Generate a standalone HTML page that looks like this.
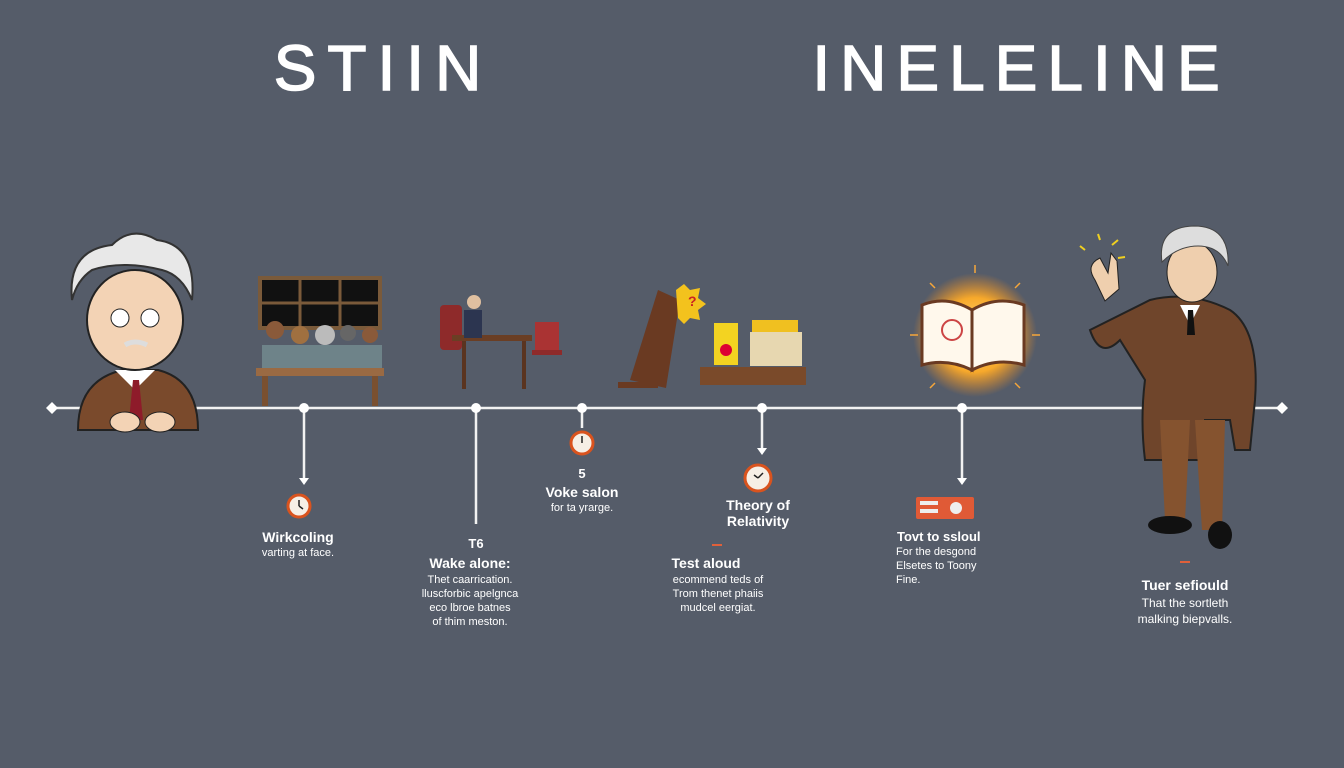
<!DOCTYPE html>
<html><head><meta charset="utf-8"><style>
html,body{margin:0;padding:0}
body{width:1344px;height:768px;overflow:hidden;background:#555c69;font-family:"Liberation Sans",sans-serif;color:#fff}
svg{position:absolute;left:0;top:0}
</style></head><body>
<svg width="1344" height="768" viewBox="0 0 1344 768">
<defs>
<radialGradient id="glow" cx="50%" cy="50%" r="50%"><stop offset="0" stop-color="#ffe08a"/><stop offset=".6" stop-color="#f7a92b"/><stop offset="1" stop-color="#f08a1c" stop-opacity="0"/></radialGradient>
</defs>
<rect width="1344" height="768" fill="#555c69"/>
<g font-family="Liberation Sans" fill="#fff" text-anchor="middle" stroke="#fff" stroke-width="1.5">
<text x="383" y="90" font-size="64" letter-spacing="11">STIIN</text>
<text x="1021" y="90" font-size="64" letter-spacing="10">INELELINE</text>
</g>
<!-- timeline -->
<g stroke="#f2f2f2" stroke-width="2.5" fill="#fff">
<line x1="48" y1="408" x2="1282" y2="408"/>
<line x1="304" y1="408" x2="304" y2="480"/>
<line x1="476" y1="408" x2="476" y2="524"/>
<line x1="582" y1="408" x2="582" y2="428"/>
<line x1="762" y1="408" x2="762" y2="450"/>
<line x1="962" y1="408" x2="962" y2="480"/>
</g>
<g fill="#fff">
<path d="M46 408l6-6 6 6-6 6z"/><path d="M1276 408l6-6 6 6-6 6z"/>
<circle cx="304" cy="408" r="5"/><circle cx="476" cy="408" r="5"/><circle cx="582" cy="408" r="5"/><circle cx="762" cy="408" r="5"/><circle cx="962" cy="408" r="5"/>
<path d="M299 478h10l-5 7z"/><path d="M757 448h10l-5 7z"/><path d="M957 478h10l-5 7z"/>
</g>
<!-- clocks -->
<g stroke="#d9531e" stroke-width="3" fill="#f6efe6">
<circle cx="299" cy="506" r="11"/><circle cx="582" cy="443" r="11"/><circle cx="758" cy="478" r="13"/>
</g>
<g stroke="#222" stroke-width="1.5"><path d="M299 506v-6M299 506l4 3M582 443v-7M758 478l5-5M758 478l-4-3"/></g>
<rect x="916" y="497" width="58" height="22" rx="2" fill="#e05a36"/>
<rect x="920" y="501" width="18" height="4" fill="#eee"/><rect x="920" y="509" width="18" height="4" fill="#eee"/><circle cx="956" cy="508" r="6" fill="#eee"/>
<rect x="712" y="544" width="10" height="2" fill="#e0603a"/><rect x="1180" y="561" width="10" height="2" fill="#e0603a"/>
<!-- labels -->
<g font-family="Liberation Sans" fill="#fff" text-anchor="middle">
<text x="298" y="542" font-size="14" font-weight="bold">Wirkcoling</text>
<text x="298" y="556" font-size="11">varting at face.</text>
<text x="476" y="548" font-size="13" font-weight="bold">T6</text>
<text x="470" y="568" font-size="14" font-weight="bold">Wake alone:</text>
<text x="470" y="583" font-size="11">Thet caarrication.</text>
<text x="470" y="597" font-size="11">lluscforbic apelgnca</text>
<text x="470" y="611" font-size="11">eco lbroe batnes</text>
<text x="470" y="625" font-size="11">of thim meston.</text>
<text x="582" y="478" font-size="13" font-weight="bold">5</text>
<text x="582" y="497" font-size="14" font-weight="bold">Voke salon</text>
<text x="582" y="511" font-size="11">for ta yrarge.</text>
<text x="758" y="510" font-size="14" font-weight="bold">Theory of</text>
<text x="758" y="526" font-size="14" font-weight="bold">Relativity</text>
<text x="706" y="568" font-size="14" font-weight="bold">Test aloud</text>
<text x="718" y="583" font-size="11">ecommend teds of</text>
<text x="718" y="597" font-size="11">Trom thenet phaiis</text>
<text x="718" y="611" font-size="11">mudcel eergiat.</text>
<text x="897" y="541" font-size="13" font-weight="bold" text-anchor="start">Tovt to ssloul</text>
<text x="896" y="555" font-size="11" text-anchor="start">For the desgond</text>
<text x="896" y="569" font-size="11" text-anchor="start">Elsetes to Toony</text>
<text x="896" y="583" font-size="11" text-anchor="start">Fine.</text>
<text x="1185" y="590" font-size="14" font-weight="bold">Tuer sefiould</text>
<text x="1185" y="607" font-size="12">That the sortleth</text>
<text x="1185" y="623" font-size="12">malking biepvalls.</text>
</g>
<!-- left Einstein -->
<path d="M78 430q0-50 45-60h35q40 10 40 60z" fill="#7a4a2c" stroke="#222" stroke-width="2"/>
<path d="M115 370l20 20 20-20z" fill="#fff"/><path d="M133 380h6l4 40h-14z" fill="#8e1b2a"/>
<ellipse cx="135" cy="320" rx="48" ry="50" fill="#f3d3b5" stroke="#222" stroke-width="2"/>
<path d="M72 300q-5-50 40-55q20-20 45-5q40 5 35 60q-10-25-30-30q-40-10-70 0q-15 10-20 30z" fill="#e8e8e8" stroke="#333" stroke-width="2"/>
<circle cx="120" cy="318" r="9" fill="#fff" stroke="#222"/><circle cx="150" cy="318" r="9" fill="#fff" stroke="#222"/>
<path d="M125 345q10-6 22 0" stroke="#ddd" stroke-width="5" fill="none"/>
<ellipse cx="125" cy="422" rx="15" ry="10" fill="#f3d3b5" stroke="#222"/><ellipse cx="160" cy="422" rx="15" ry="10" fill="#f3d3b5" stroke="#222"/>
<!-- library -->
<rect x="260" y="278" width="120" height="50" fill="#111" stroke="#7a5a3a" stroke-width="4"/>
<path d="M300 278v50M340 278v50M260 303h120" stroke="#7a5a3a" stroke-width="3"/>
<g fill="#8a5a3a"><circle cx="275" cy="330" r="9"/><circle cx="300" cy="335" r="9" fill="#a07040"/><circle cx="325" cy="335" r="10" fill="#bbb"/><circle cx="348" cy="333" r="8" fill="#666"/><circle cx="370" cy="335" r="8"/></g>
<rect x="262" y="345" width="120" height="25" fill="#8aa" opacity=".5"/>
<rect x="256" y="368" width="128" height="8" fill="#9a6a43"/><rect x="262" y="376" width="6" height="30" fill="#7a5030"/><rect x="372" y="376" width="6" height="30" fill="#7a5030"/>
<!-- desk scene -->
<rect x="440" y="305" width="22" height="45" rx="4" fill="#8e2a2a"/><rect x="452" y="335" width="80" height="6" fill="#6a3e24"/>
<rect x="462" y="341" width="4" height="48" fill="#5a3420"/><rect x="522" y="341" width="4" height="48" fill="#5a3420"/>
<circle cx="474" cy="302" r="7" fill="#e0c0a0"/><rect x="464" y="310" width="18" height="28" fill="#2c3550"/>
<rect x="535" y="322" width="24" height="30" fill="#a33"/><rect x="532" y="350" width="30" height="5" fill="#8e2a2a"/>
<!-- easel/box -->
<path d="M630 380l28-90 22 10-14 88z" fill="#6a3a22"/><path d="M618 385h40" stroke="#6a3a22" stroke-width="6"/>
<path d="M676 290l8-6 6 6 10-2-2 10 8 6-8 6 2 10-10-2-6 6-6-6z" fill="#f3c21d"/><text x="688" y="306" font-size="14" fill="#c22" font-weight="bold" font-family="Liberation Sans">?</text>
<rect x="714" y="323" width="24" height="42" fill="#f3d321"/><circle cx="726" cy="350" r="6" fill="#d03"/>
<rect x="750" y="332" width="52" height="34" fill="#e7d7b0"/><rect x="752" y="320" width="46" height="12" fill="#f0c020"/>
<rect x="700" y="367" width="106" height="18" fill="#7a4a2a"/>
<!-- book glow -->
<circle cx="975" cy="335" r="62" fill="url(#glow)"/>
<g stroke="#f6a63a" stroke-width="1.5"><path d="M975 265v8M930 283l5 5M1020 283l-5 5M910 335h8M1040 335h-8M930 388l5-5M1020 388l-5-5"/></g>
<path d="M922 305q25-10 50 5v60q-25-12-50-5z" fill="#fff8ec" stroke="#6a3a22" stroke-width="3"/>
<path d="M972 310q25-15 52-5v60q-27-8-52 5z" fill="#fff8ec" stroke="#6a3a22" stroke-width="3"/>
<circle cx="952" cy="330" r="10" fill="none" stroke="#c44" stroke-width="2"/>
<!-- right Einstein -->
<path d="M1150 300q40-10 80 10q30 20 25 90l-5 50h-15l-5-30h-25l0 40h-60q-5-40 0-80l-25-40q-20 20-30-10z" fill="#6f452b" stroke="#222" stroke-width="2"/>
<path d="M1160 420h30l-5 100h-20z" fill="#85532f"/><path d="M1195 420h30l-3 110h-20z" fill="#85532f"/>
<ellipse cx="1170" cy="525" rx="22" ry="9" fill="#111"/><ellipse cx="1220" cy="535" rx="12" ry="14" fill="#111"/>
<path d="M1180 305l10 20 10-20z" fill="#fff"/><path d="M1188 310h5l2 25h-8z" fill="#111"/>
<ellipse cx="1192" cy="272" rx="25" ry="30" fill="#efcfae" stroke="#222"/>
<path d="M1162 262q-5-35 32-36q36 0 34 40q-8-20-30-20q-20 0-36 16z" fill="#ddd" stroke="#444"/>
<path d="M1095 280q-10-15 5-22l8 15 3-20 6 8 2 28-14 12z" fill="#efcfae" stroke="#222"/>
<g stroke="#f0d020" stroke-width="2"><path d="M1085 250l-5-4M1100 240l-2-6M1112 245l6-5M1118 258l7-1"/></g>
</svg>
</body></html>
